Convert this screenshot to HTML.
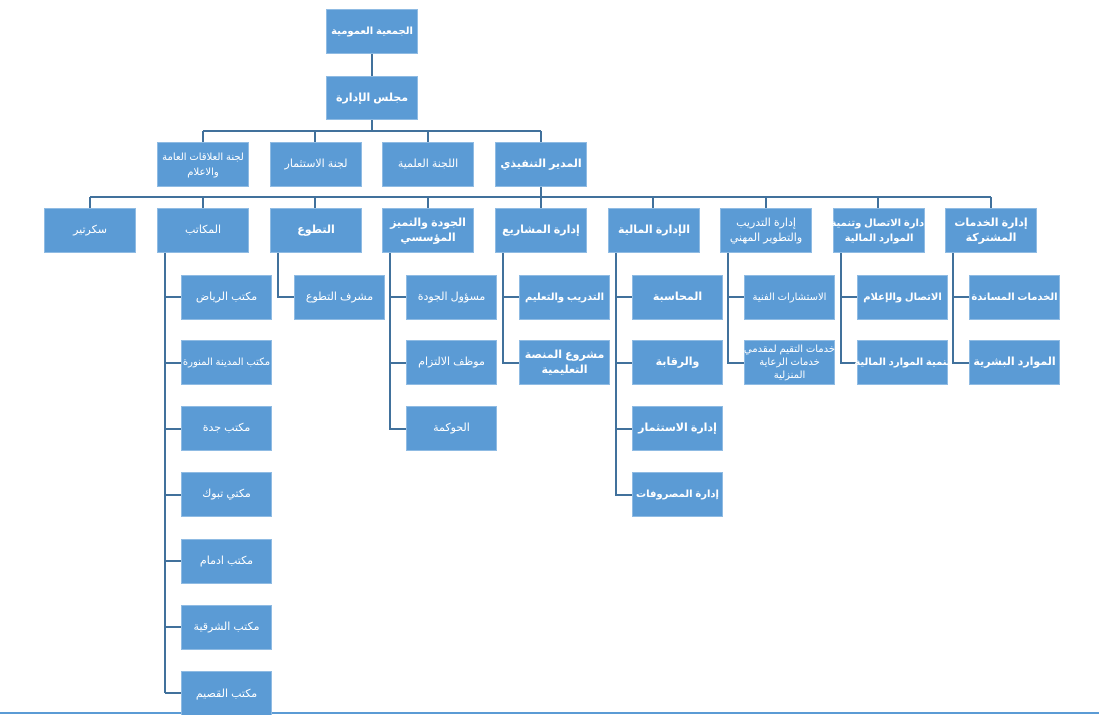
<!DOCTYPE html>
<html><head><meta charset="utf-8">
<style>
html,body{margin:0;padding:0;background:#fff;}
#c{position:relative;width:1099px;height:715px;overflow:hidden;font-family:"Liberation Sans","DejaVu Sans",sans-serif;}
.b{position:absolute;background:#5b9bd5;color:#fff;display:flex;align-items:center;justify-content:center;text-align:center;font-size:11px;line-height:15px;box-sizing:border-box;border:1px solid #8fbbe3;direction:rtl;white-space:nowrap;letter-spacing:-0.3px;}
.k{font-weight:bold;}
.s{font-size:10px;letter-spacing:-0.6px;}
svg{position:absolute;left:0;top:0;}
</style></head><body><div id="c">
<svg width="1099" height="715">
<g stroke="#41719c" stroke-width="2" fill="none">
<line x1="372" y1="54" x2="372" y2="76"/>
<line x1="372" y1="120" x2="372" y2="131"/>
<line x1="203" y1="131" x2="541" y2="131"/>
<line x1="203" y1="131" x2="203" y2="142"/>
<line x1="315" y1="131" x2="315" y2="142"/>
<line x1="428" y1="131" x2="428" y2="142"/>
<line x1="541" y1="131" x2="541" y2="142"/>
<line x1="541" y1="187" x2="541" y2="208"/>
<line x1="90" y1="197" x2="991" y2="197"/>
<line x1="90" y1="197" x2="90" y2="208"/>
<line x1="203" y1="197" x2="203" y2="208"/>
<line x1="315" y1="197" x2="315" y2="208"/>
<line x1="428" y1="197" x2="428" y2="208"/>
<line x1="653" y1="197" x2="653" y2="208"/>
<line x1="766" y1="197" x2="766" y2="208"/>
<line x1="878" y1="197" x2="878" y2="208"/>
<line x1="991" y1="197" x2="991" y2="208"/>
<path d="M165 253 V693 M165 297 H181 M165 363 H181 M165 429 H181 M165 495 H181 M165 561 H181 M165 627 H181 M165 693 H181"/>
<path d="M278 253 V297 H294"/>
<path d="M390 253 V429 H406 M390 297 H406 M390 363 H406"/>
<path d="M503 253 V363 H519 M503 297 H519"/>
<path d="M616 253 V495 H632 M616 297 H632 M616 363 H632 M616 429 H632"/>
<path d="M728 253 V363 H744 M728 297 H744"/>
<path d="M841 253 V363 H857 M841 297 H857"/>
<path d="M953 253 V363 H969 M953 297 H969"/>
</g>
<line x1="0" y1="713" x2="1099" y2="713" stroke="#5b9bd5" stroke-width="2"/>
</svg>

<div class="b k s" style="left:326px;top:9px;width:92px;height:45px">الجمعية العمومية</div>
<div class="b k" style="left:326px;top:76px;width:92px;height:44px">مجلس الإدارة</div>

<div class="b s" style="left:157px;top:142px;width:92px;height:45px">لجنة العلاقات العامة<br>والاعلام</div>
<div class="b" style="left:270px;top:142px;width:92px;height:45px">لجنة الاستثمار</div>
<div class="b" style="left:382px;top:142px;width:92px;height:45px">اللجنة العلمية</div>
<div class="b k" style="left:495px;top:142px;width:92px;height:45px">المدير التنفيذي</div>

<div class="b" style="left:44px;top:208px;width:92px;height:45px">سكرتير</div>
<div class="b" style="left:157px;top:208px;width:92px;height:45px">المكاتب</div>
<div class="b k" style="left:270px;top:208px;width:92px;height:45px">التطوع</div>
<div class="b k" style="left:382px;top:208px;width:92px;height:45px">الجودة والتميز<br>المؤسسي</div>
<div class="b k" style="left:495px;top:208px;width:92px;height:45px">إدارة المشاريع</div>
<div class="b k" style="left:608px;top:208px;width:92px;height:45px">الإدارة المالية</div>
<div class="b" style="left:720px;top:208px;width:92px;height:45px">إدارة التدريب<br>والتطوير المهني</div>
<div class="b k s" style="left:833px;top:208px;width:92px;height:45px">إدارة الاتصال وتنمية<br>الموارد المالية</div>
<div class="b k" style="left:945px;top:208px;width:92px;height:45px">إدارة الخدمات<br>المشتركة</div>

<div class="b" style="left:181px;top:275px;width:91px;height:45px">مكتب الرياض</div>
<div class="b s" style="left:181px;top:340px;width:91px;height:45px">مكتب المدينة المنورة</div>
<div class="b" style="left:181px;top:406px;width:91px;height:45px">مكتب جدة</div>
<div class="b" style="left:181px;top:472px;width:91px;height:45px">مكتي تبوك</div>
<div class="b" style="left:181px;top:539px;width:91px;height:45px">مكتب ادمام</div>
<div class="b" style="left:181px;top:605px;width:91px;height:45px">مكتب الشرقية</div>
<div class="b" style="left:181px;top:671px;width:91px;height:46px">مكتب القصيم</div>

<div class="b" style="left:294px;top:275px;width:91px;height:45px">مشرف التطوع</div>

<div class="b" style="left:406px;top:275px;width:91px;height:45px">مسؤول الجودة</div>
<div class="b" style="left:406px;top:340px;width:91px;height:45px">موظف الالتزام</div>
<div class="b" style="left:406px;top:406px;width:91px;height:45px">الحوكمة</div>

<div class="b k s" style="left:519px;top:275px;width:91px;height:45px">التدريب والتعليم</div>
<div class="b k" style="left:519px;top:340px;width:91px;height:45px">مشروع المنصة<br>التعليمية</div>

<div class="b k" style="left:632px;top:275px;width:91px;height:45px">المحاسبة</div>
<div class="b k" style="left:632px;top:340px;width:91px;height:45px">والرقابة</div>
<div class="b k" style="left:632px;top:406px;width:91px;height:45px">إدارة الاستثمار</div>
<div class="b k s" style="left:632px;top:472px;width:91px;height:45px">إدارة المصروفات</div>

<div class="b s" style="left:744px;top:275px;width:91px;height:45px">الاستشارات الفنية</div>
<div class="b s" style="left:744px;top:340px;width:91px;height:45px;line-height:13px">خدمات التقيم لمقدمي<br>خدمات الرعاية<br>المنزلية</div>

<div class="b k s" style="left:857px;top:275px;width:91px;height:45px">الاتصال والإعلام</div>
<div class="b k s" style="left:857px;top:340px;width:91px;height:45px">تنمية الموارد المالية</div>

<div class="b k s" style="left:969px;top:275px;width:91px;height:45px">الخدمات المساندة</div>
<div class="b k" style="left:969px;top:340px;width:91px;height:45px">الموارد البشرية</div>
</div></body></html>
